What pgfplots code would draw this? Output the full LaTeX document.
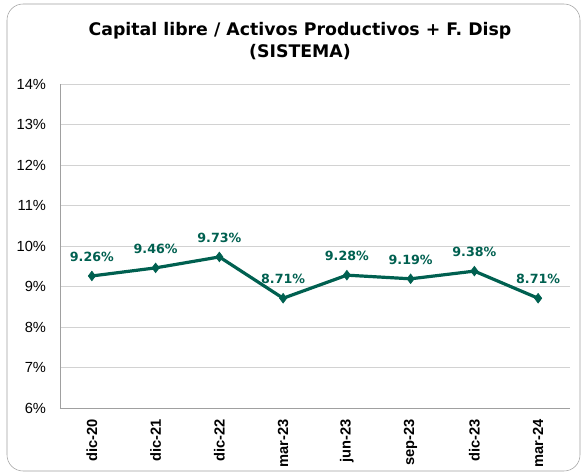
\documentclass[border=0pt]{standalone}
\usepackage{pgfplots}
\pgfplotsset{compat=1.18}
\usepackage{fontspec}
\setmainfont{Liberation Sans}
\newfontfamily\tahoma{DejaVu Sans}
\definecolor{teal1}{RGB}{0,96,80}
\definecolor{gridc}{RGB}{210,210,210}
\definecolor{axc}{RGB}{160,160,160}
\begin{document}
\begin{tikzpicture}[x=0.75pt,y=0.75pt]
% bounding box in pixels of the 583x475 image, origin at axis corner (60,408)
\path (-60,-67) rectangle (523,408);
\draw[axc, rounded corners=12pt] (-53,-63) rectangle (520,404);
\node[font=\tahoma\bfseries\fontsize{13}{16.5}\selectfont, align=center] at (240,367)
  {Capital libre / Activos Productivos + F. Disp\\(SISTEMA)};
\begin{axis}[
    at={(0,0)}, anchor=south west,
    scale only axis,
    width=510*0.75pt, height=324*0.75pt,
    xmin=-0.5, xmax=7.5,
    ymin=6, ymax=14,
    ytick={6,7,...,14},
    yticklabel={\pgfmathprintnumber{\tick}\%},
    xtick={0,...,7},
    xticklabels={dic-20,dic-21,dic-22,mar-23,jun-23,sep-23,dic-23,mar-24},
    x tick label style={rotate=90, anchor=east, font=\bfseries\fontsize{11}{13}\selectfont},
    y tick label style={font=\fontsize{11}{13}\selectfont},
    xticklabel shift=5pt,
    yticklabel shift=7pt,
    /pgf/number format/assume math mode=true,
    axis x line*=bottom, axis y line*=left,
    axis line style={axc},
    major tick length=0pt,
    ymajorgrids, grid style={gridc},
    nodes near coords={\pgfmathprintnumber[fixed,fixed zerofill,precision=2]{\pgfplotspointmeta}\%},
    nodes near coords style={font=\tahoma\bfseries\fontsize{9.5}{11}\selectfont, text=teal1, anchor=south, yshift=7pt},
]
\addplot[teal1, line width=2.4pt, mark=diamond*, mark size=3.6pt, mark options={fill=teal1, line width=0.5pt}]
  coordinates {(0,9.26) (1,9.46) (2,9.73) (3,8.71) (4,9.28) (5,9.19) (6,9.38) (7,8.71)};
\end{axis}
\end{tikzpicture}
\end{document}
